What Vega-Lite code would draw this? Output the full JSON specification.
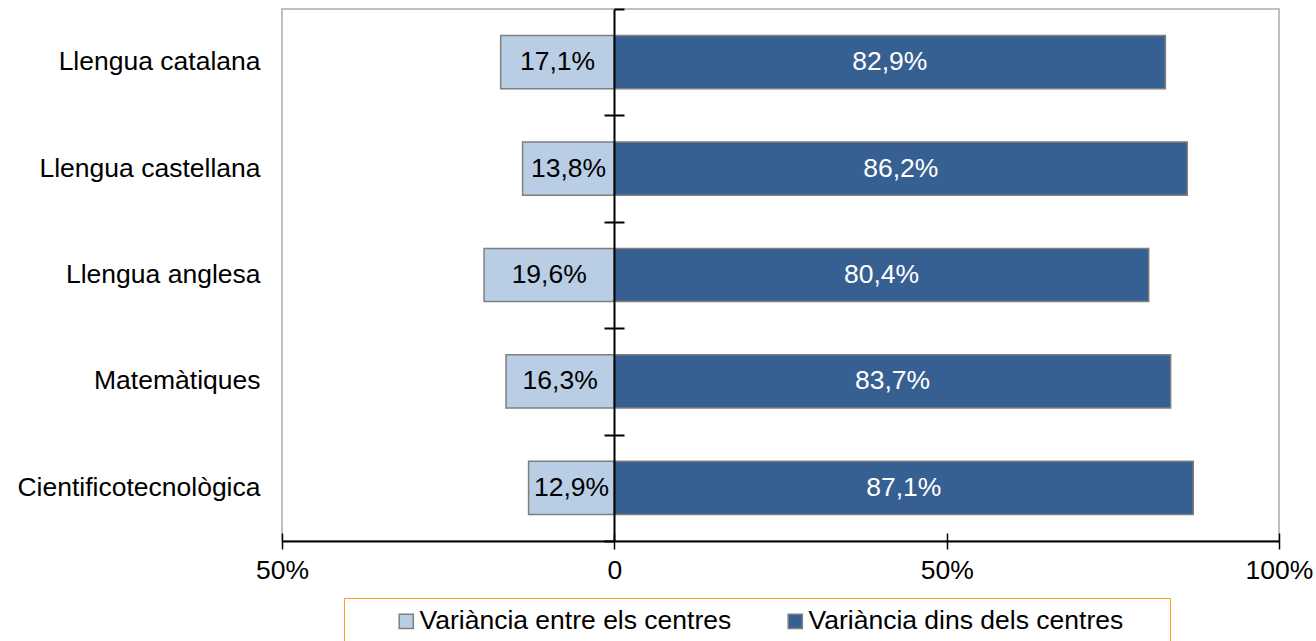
{
  "$schema": "https://vega.github.io/schema/vega-lite/v6.json",
  "width": 997,
  "height": 532,
  "autosize": "none",
  "padding": {"left": 282, "top": 9, "right": 37, "bottom": 100},
  "background": "white",
  "config": {
    "font": "Liberation Sans",
    "view": {"stroke": "#BFBFBF", "strokeWidth": 2},
    "axis": {"labelFont": "Liberation Sans", "labelFontSize": 26.5, "labelColor": "black", "grid": false, "title": null, "labelLimit": 500}
  },
  "data": {
    "values": [
      {"cat": "Llengua catalana", "serie": "Variància entre els centres", "v": -17.1},
      {"cat": "Llengua catalana", "serie": "Variància dins dels centres", "v": 82.9},
      {"cat": "Llengua castellana", "serie": "Variància entre els centres", "v": -13.8},
      {"cat": "Llengua castellana", "serie": "Variància dins dels centres", "v": 86.2},
      {"cat": "Llengua anglesa", "serie": "Variància entre els centres", "v": -19.6},
      {"cat": "Llengua anglesa", "serie": "Variància dins dels centres", "v": 80.4},
      {"cat": "Matemàtiques", "serie": "Variància entre els centres", "v": -16.3},
      {"cat": "Matemàtiques", "serie": "Variància dins dels centres", "v": 83.7},
      {"cat": "Cientificotecnològica", "serie": "Variància entre els centres", "v": -12.9},
      {"cat": "Cientificotecnològica", "serie": "Variància dins dels centres", "v": 87.1}
    ]
  },
  "transform": [
    {"calculate": "datum.v / 2", "as": "mid"},
    {"calculate": "replace(format(abs(datum.v), '.1f'), '.', ',') + '%'", "as": "lab"}
  ],
  "encoding": {
    "y": {
      "field": "cat",
      "type": "nominal",
      "sort": ["Llengua catalana", "Llengua castellana", "Llengua anglesa", "Matemàtiques", "Cientificotecnològica"],
      "scale": {"paddingInner": 0.5, "paddingOuter": 0.25}
    }
  },
  "layer": [
    {
      "mark": {"type": "bar", "stroke": "#7F7F7F", "strokeWidth": 1.5},
      "encoding": {
        "x": {
          "field": "v",
          "type": "quantitative",
          "stack": null,
          "scale": {"domain": [-50, 100], "nice": false, "zero": false},
          "axis": {
            "values": [-50, 0, 50, 100],
            "labelExpr": "datum.value == 0 ? '0' : abs(datum.value) + '%'",
            "tickSize": 8,
            "tickColor": "black",
            "tickWidth": 1.5,
            "domainColor": "black",
            "domainWidth": 2,
            "labelPadding": 8,
            "labelFlush": false
          }
        },
        "y": {
          "field": "cat",
          "type": "nominal",
          "sort": ["Llengua catalana", "Llengua castellana", "Llengua anglesa", "Matemàtiques", "Cientificotecnològica"],
          "axis": {"domain": false, "ticks": false, "labelPadding": 22, "title": null}
        },
        "color": {
          "field": "serie",
          "type": "nominal",
          "scale": {"domain": ["Variància entre els centres", "Variància dins dels centres"], "range": ["#B9CDE5", "#376092"]},
          "legend": {
            "orient": "none",
            "legendX": 62,
            "legendY": 589,
            "direction": "horizontal",
            "title": "\u2003",
            "titleOrient": "right",
            "titleFontSize": 1,
            "titlePadding": 37,
            "strokeColor": "#FFA020",
            "padding": 10,
            "symbolType": "square",
            "symbolSize": 200,
            "symbolStrokeColor": "#7F7F7F",
            "symbolStrokeWidth": 1.5,
            "labelFontSize": 26.5,
            "labelFont": "Liberation Sans",
            "labelColor": "black",
            "labelOffset": 0,
            "symbolOffset": 39,
            "columnPadding": 11,
            "labelLimit": 600
          }
        }
      }
    },
    {
      "transform": [{"filter": "datum.v < 0"}],
      "mark": {"type": "text", "fontSize": 26.5, "color": "black", "baseline": "middle", "align": "center"},
      "encoding": {
        "x": {
          "field": "mid",
          "type": "quantitative",
          "axis": {"orient": "top", "offset": -532, "values": [-50, 0, 50, 100], "labels": false, "domain": false, "tickSize": 8, "tickColor": "black", "tickWidth": 1.5}
        },
        "y": {
          "field": "cat",
          "type": "nominal",
          "sort": ["Llengua catalana", "Llengua castellana", "Llengua anglesa", "Matemàtiques", "Cientificotecnològica"],
          "axis": {"orient": "left", "offset": -332, "labels": false, "domainColor": "black", "domainWidth": 2, "tickBand": "center", "tickOffset": 53.2, "tickSize": 10, "tickColor": "black", "tickWidth": 2, "zindex": 1, "title": null}
        },
        "text": {"field": "lab"}
      }
    },
    {
      "transform": [{"filter": "datum.v > 0"}],
      "mark": {"type": "text", "fontSize": 26.5, "color": "white", "baseline": "middle", "align": "center"},
      "encoding": {
        "x": {"field": "mid", "type": "quantitative", "axis": null},
        "y": {
          "field": "cat",
          "type": "nominal",
          "sort": ["Llengua catalana", "Llengua castellana", "Llengua anglesa", "Matemàtiques", "Cientificotecnològica"],
          "axis": {"orient": "right", "offset": -665, "labels": false, "domain": false, "tickBand": "center", "tickOffset": -53.2, "tickSize": 10, "tickColor": "black", "tickWidth": 2, "zindex": 1, "title": null}
        },
        "text": {"field": "lab"}
      }
    }
  ],
  "resolve": {"axis": {"x": "independent", "y": "independent"}}
}
